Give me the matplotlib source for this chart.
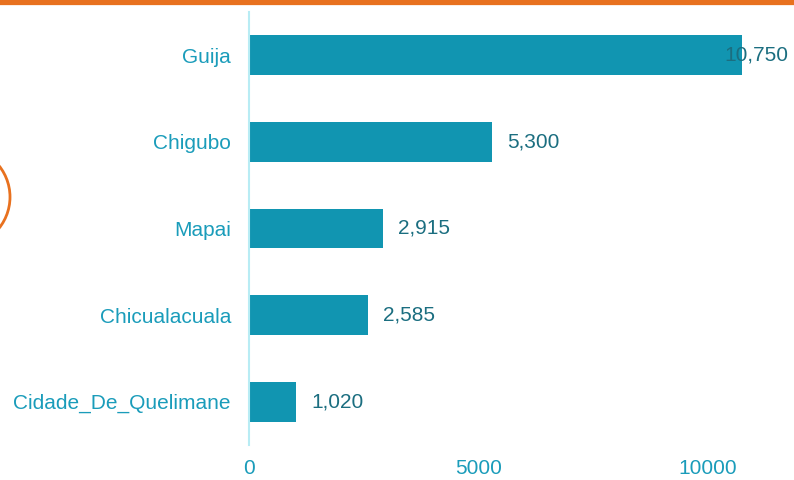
import matplotlib.pyplot as plt
from matplotlib.patches import Circle
from matplotlib.lines import Line2D

plt.rcParams['font.family'] = ['Liberation Sans', 'DejaVu Sans']

categories = ['Guija', 'Chigubo', 'Mapai', 'Chicualacuala', 'Cidade_De_Quelimane']
values = [10750, 5300, 2915, 2585, 1020]
xticks = [0, 5000, 10000]

bar_color = '#1195b1'
label_color = '#1a9cba'
value_color = '#1b6e80'
orange = '#e8711f'

fig = plt.figure(figsize=(7.94, 4.8), dpi=100)
ax = fig.add_axes([249 / 794, 35 / 480, 1 - 249 / 794, 1 - 47 / 480])

ypos = list(range(len(categories)))[::-1]
ax.barh(ypos, values, height=0.46, color=bar_color)
ax.set_ylim(-0.5, 4.5)
ax.set_xlim(0, 11880)

ax.set_yticks(ypos)
ax.set_yticklabels(categories, fontsize=15, color=label_color)
ax.set_xticks(xticks)
ax.set_xticklabels([str(t) for t in xticks], fontsize=15, color=label_color)
ax.tick_params(axis='both', length=0)
ax.tick_params(axis='y', pad=13)
ax.tick_params(axis='x', pad=10)

for s in ['top', 'right', 'bottom']:
    ax.spines[s].set_visible(False)
ax.spines['left'].set_color('#b8ecf4')
ax.spines['left'].set_linewidth(1.5)

# value labels, clamp the big one inside the figure
for y, v in zip(ypos, values):
    txt = f'{v:,}'
    if v > 10000:
        ax.text(0.99, y, txt, transform=ax.get_yaxis_transform(), ha='right', va='center',
                fontsize=15, color=value_color)
    else:
        ax.annotate(txt, (v, y), xytext=(11, 0), textcoords='offset points',
                    ha='left', va='center', fontsize=15, color=value_color)

# orange band at the top and the decorative circle
fig.add_artist(Line2D([0, 1], [1 - 2 / 480, 1 - 2 / 480], transform=fig.transFigure,
                      color=orange, lw=4.5))
circ = Circle((-40, 480 - 197), 50, transform=None, fill=False, edgecolor=orange, lw=2)
fig.add_artist(circ)

fig.savefig('out.png', dpi=100)
